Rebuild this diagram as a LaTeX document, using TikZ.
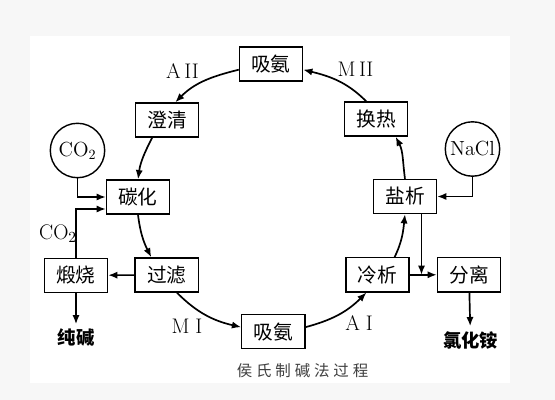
\documentclass[tikz,border=0pt]{standalone}
\usepackage{fontspec}
\newfontfamily\cjk{Noto Sans CJK SC}
\newfontfamily\cjkcap[LetterSpace=25]{Noto Sans CJK SC}
\usetikzlibrary{arrows.meta}

\begin{document}
\begin{tikzpicture}[
  x=0.025cm, y=0.025cm,
  font=\fontsize{14}{16}\selectfont\cjk,
  box/.style={draw, line width=1pt, minimum width=1.575cm, minimum height=0.85cm, inner sep=0pt, fill=white},
  src/.style={draw, circle, line width=1pt, minimum size=1.36cm, inner sep=0pt, font=\fontsize{14.5}{16}\selectfont\rmfamily},
  lbl/.style={font=\fontsize{15}{17}\selectfont\rmfamily},
  prod/.style={font=\fontsize{13}{15}\selectfont\cjk\bfseries},
  arr/.style={-{Latex[length=2.3mm, width=1.8mm]}, line width=1.2pt},
  ring/.style={arr}
]
  % page and panel
  \fill[black!3] (0,0) rectangle (555,400);
  \fill[white] (30,17) rectangle (510,364);

  % ring of process steps
  \node[box] (xa) at (271,336) {吸氨};
  \node[box] (cq) at (167,280) {澄清};
  \node[box] (hr) at (376,281) {换热};
  \node[box] (th) at (138,203) {碳化};
  \node[box] (yx) at (405,203.5) {盐析};
  \node[box] (gl) at (166.7,125) {过滤};
  \node[box] (lx) at (377.5,125.2) {冷析};
  \node[box] (xb) at (273.3,68.3) {吸氨};

  % side steps and feeds
  \node[box] (ds) at (76,124.7) {煅烧};
  \node[box] (fl) at (469,125.2) {分离};
  \node[src] (co) at (77.5,249.5) {CO$_2$};
  \node[src] (nc) at (472.5,251) {NaCl};
  \node[prod] (cj) at (76,62) {纯碱};
  \node[prod] (lha) at (470.5,60) {氯化铵};

  % stream labels
  \node[lbl] (a2) at (182.5,329) {A\,II};
  \node[lbl] (m2) at (355.5,330.5) {M\,II};
  \node[lbl] (m1) at (187,74) {M\;I};
  \node[lbl] (a1) at (359,76.7) {A\;I};
  \node[lbl] (cog) at (58,166) {CO$_2$};

  \node[font=\fontsize{11}{13}\selectfont\cjkcap, text=black!75] (cap) at (302.5,29.5) {侯氏制碱法过程};

  % ring connectors
  \draw[ring] (xa.190) to[out=194, in=45] (cq.65);
  \draw[ring] (cq.230) to[out=243, in=82] (th.north);
  \draw[ring] (th.south) to[out=277, in=117] (gl.131);
  \draw[ring] (gl.-60) to[out=-45, in=167] (xb.172);
  \draw[ring] (xb.8) to[out=15, in=225] (lx.238);
  \draw[ring] (lx.46) to[out=64, in=264] (yx.south);
  \draw[ring] (yx.north) to[out=98, in=-63] (hr.-42);
  \draw[ring] (hr.119) to[out=135, in=-14] (xa.-10);

  % straight connectors
  \draw[arr] (gl) -- (ds);
  \draw[arr] (ds) -- (cj);
  \draw[arr] (ds.north) |- ([yshift=-0.3cm]th.west);
  \draw[arr] (co.south) |- (th.west);
  \draw[arr] (nc.south) |- (yx.east);
  \coordinate (jn) at (yx.-47 |- lx.east);
  \draw[arr] (yx.-47) -- (jn);
  \draw[arr] (lx) -- (fl);
  \draw[arr] (fl) -- (lha);
\end{tikzpicture}
\end{document}
